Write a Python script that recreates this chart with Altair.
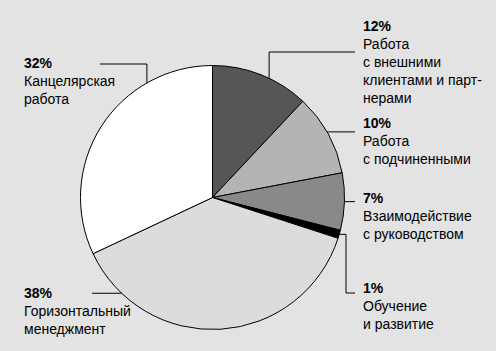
import math
import altair as alt
import pandas as pd

# ---- data ----
shares = [12, 10, 7, 1, 38, 32]
pct_labels = ["12%", "10%", "7%", "1%", "38%", "32%"]
label_lines = [
    ["Работа", "с внешними", "клиентами и парт-", "нерами"],
    ["Работа", "с подчиненными"],
    ["Взаимодействие", "с руководством"],
    ["Обучение", "и развитие"],
    ["Горизонтальный", "менеджмент"],
    ["Канцелярская", "работа"],
]
slice_colors = ["#565656", "#b4b4b4", "#898989", "#000000", "#dcdcdc", "#ffffff"]

# ---- layout (pixels) ----
W, H = 496, 351
CX, CY, R = 212.5, 197.5, 132
LINE_H = 18
label_x = [363, 363, 363, 363, 24, 24]
label_y = [31, 128, 203, 293, 298, 68]
# angle (deg clockwise from top) where each leader touches the pie, and the elbow path after it
leader_angle = [25.4, 60.2, 91.8, 106.2, 223.5, 330.2]


def edge(a):
    r = math.radians(a)
    return CX + R * math.sin(r), CY - R * math.cos(r)


leader_paths = []
for i, a in enumerate(leader_angle):
    sx, sy = edge(a)
    if i == 0:
        pts = [(sx, sy), (sx, 52), (355, 52)]
    elif i in (1, 2):
        pts = [(sx, sy), (355, sy)]
    elif i == 3:
        pts = [(sx, sy), (346, sy), (346, 293), (355, 293)]
    elif i == 4:
        pts = [(sx, sy), (92, sy)]
    else:
        pts = [(sx, sy), (sx, 64), (100, 64)]
    leader_paths.append(pts)

pie_df = pd.DataFrame({
    "cat": [f"s{i}" for i in range(len(shares))],
    "share": shares,
    "idx": list(range(len(shares))),
})

seg_rows = []
for i, pts in enumerate(leader_paths):
    for (x1, y1), (x2, y2) in zip(pts[:-1], pts[1:]):
        seg_rows.append({"x": x1, "y": y1, "x2": x2, "y2": y2})
seg_df = pd.DataFrame(seg_rows)

pct_df = pd.DataFrame({"x": label_x, "y": label_y, "t": pct_labels})
txt_rows = []
for i, lines in enumerate(label_lines):
    for j, s in enumerate(lines):
        txt_rows.append({"x": label_x[i], "y": label_y[i] + LINE_H * (j + 1), "t": s})
txt_df = pd.DataFrame(txt_rows)

xs = alt.Scale(domain=[0, W], range=[0, W])
ys = alt.Scale(domain=[0, H], range=[0, H])

pie = alt.Chart(pie_df).mark_arc(outerRadius=R, stroke="black", strokeWidth=1).encode(
    theta=alt.Theta("share:Q", stack=True),
    color=alt.Color("cat:N", scale=alt.Scale(domain=list(pie_df["cat"]), range=slice_colors), legend=None),
    order=alt.Order("idx:Q"),
    x=alt.value(CX),
    y=alt.value(CY),
)

leaders = alt.Chart(seg_df).mark_rule(color="black", strokeWidth=1).encode(
    x=alt.X("x:Q", scale=xs, axis=None),
    y=alt.Y("y:Q", scale=ys, axis=None),
    x2="x2:Q",
    y2="y2:Q",
)

pct = alt.Chart(pct_df).mark_text(
    align="left", baseline="alphabetic", font="Liberation Sans", fontSize=14, fontWeight="bold", color="black"
).encode(x=alt.X("x:Q", scale=xs, axis=None), y=alt.Y("y:Q", scale=ys, axis=None), text="t:N")

txt = alt.Chart(txt_df).mark_text(
    align="left", baseline="alphabetic", font="Liberation Sans", fontSize=14, color="black"
).encode(x=alt.X("x:Q", scale=xs, axis=None), y=alt.Y("y:Q", scale=ys, axis=None), text="t:N")

chart = alt.layer(pie, leaders, pct, txt).properties(
    width=W, height=H, padding=0, autosize=alt.AutoSizeParams(type="none"), background="#e3e3e3"
).configure_view(stroke=None)

chart.save("out.html", embed_options={"renderer": "svg", "actions": False})
